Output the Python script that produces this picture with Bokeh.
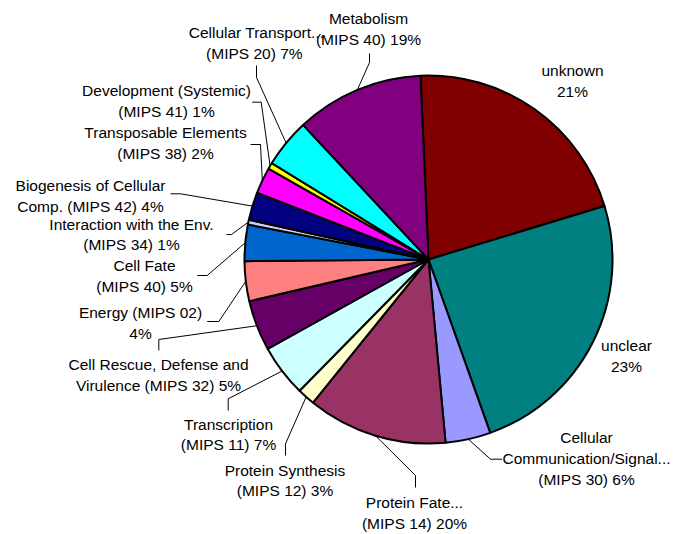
import math
from bokeh.plotting import figure
from bokeh.models import Range1d, ColumnDataSource
from bokeh.embed import file_html
from bokeh.resources import INLINE
from bokeh.core.properties import value

# ---- data (slice shares, % of the pie) ----
categories = ["unknown", "unclear", "Cellular Communication", "Protein Fate",
              "Protein Synthesis", "Transcription", "Cell Rescue", "Energy",
              "Cell Fate", "Interaction with the Env.", "Biogenesis",
              "Transposable Elements", "Development", "Cellular Transport",
              "Metabolism"]
shares = [21.0, 24.25, 3.97, 12.28, 1.56, 4.56, 4.44, 3.5, 3.19, 0.42,
          2.44, 2.31, 0.56, 4.28, 11.25]
colors = ["#800000", "#008080", "#9999FF", "#993366", "#FFFFCC", "#CCFFFF",
          "#660066", "#FF8080", "#0066CC", "#CCCCFF", "#000080", "#FF00FF",
          "#FFFF00", "#00FFFF", "#800080"]
label_lines = [
    ["unknown", "21%"],
    ["unclear", "23%"],
    ["Cellular", "Communication/Signal...", "(MIPS 30) 6%"],
    ["Protein Fate...", "(MIPS 14) 20%"],
    ["Protein Synthesis", "(MIPS 12) 3%"],
    ["Transcription", "(MIPS 11) 7%"],
    ["Cell Rescue, Defense and", "Virulence (MIPS 32) 5%"],
    ["Energy (MIPS 02)", "4%"],
    ["Cell Fate", "(MIPS 40) 5%"],
    ["Interaction with the Env.", "(MIPS 34) 1%"],
    ["Biogenesis of Cellular", "Comp. (MIPS 42) 4%"],
    ["Transposable Elements", "(MIPS 38) 2%"],
    ["Development (Systemic)", "(MIPS 41) 1%"],
    ["Cellular Transport...", "(MIPS 20)  7%"],
    ["Metabolism", "(MIPS 40) 19%"],
]

# ---- layout (pixel coordinates of the page, y downward) ----
CX, CY, R = 428, 259, 184
START_DEG = -2.5          # first slice starts just left of 12 o'clock, clockwise
LINE_H = 20.8
label_pos = [(572, 70), (626, 345), (586, 437), (414, 502), (284.5, 469.5),
             (228, 423.5), (158, 364), (140, 312), (144, 265), (131, 223.5),
             (90, 185), (165, 132), (166, 90), (256, 32), (368, 18)]
# leader: (start, elbow) or None; the line ends on the slice edge at its mid-angle
leaders = [None, None,
           ((501.7, 458.7), (490, 458.7)),
           ((415, 487), (415, 475)),
           ((285, 455), (285, 443.3)),
           ((227.7, 410), (227.7, 398.3)),
           ((158.3, 350), (158.3, 339)),
           ((206.7, 321), (218.3, 321)),
           ((196.7, 275), (206.7, 275)),
           ((226, 234), (231, 234)),
           ((170, 193.3), (180, 193.3)),
           ((250, 144), (260, 144)),
           ((251.7, 101.7), (260.7, 101.7)),
           ((256, 65), (256, 77)),
           ((369, 53), (369, 62))]

total = sum(shares)
starts, ends, mids = [], [], []
acc = START_DEG
for s in shares:
    d = s / total * 360.0
    a0, a1 = acc, acc + d
    starts.append(math.radians(90 - a0))
    ends.append(math.radians(90 - a1))
    mids.append((a0 + a1) / 2)
    acc = a1

W, H = 672, 533
p = figure(width=W, height=H, x_range=Range1d(0, W), y_range=Range1d(-H, 0),
           output_backend="svg", toolbar_location=None, min_border=0,
           x_axis_location=None, y_axis_location=None)
p.grid.visible = False
p.outline_line_color = None
p.background_fill_color = "white"
p.border_fill_color = "white"

src = ColumnDataSource(dict(cat=categories, start=starts, end=ends, color=colors))
p.wedge(x=CX, y=-CY, radius=R, start_angle="start", end_angle="end",
        direction="clock", fill_color="color", line_color="black", line_width=2,
        source=src)

xs, ys = [], []
for ld, m in zip(leaders, mids):
    if ld is None:
        continue
    ex = CX + R * math.sin(math.radians(m))
    ey = CY - R * math.cos(math.radians(m))
    (sx, sy), (bx, by) = ld
    xs.append([sx, bx, ex])
    ys.append([-sy, -by, -ey])
p.multi_line(xs=xs, ys=ys, line_color="black", line_width=1)

tx, ty, tt = [], [], []
for lines, (lx, ly) in zip(label_lines, label_pos):
    for i, t in enumerate(lines):
        tx.append(lx)
        ty.append(-(ly + i * LINE_H))
        tt.append(t)
p.text(x=tx, y=ty, text=tt, text_font=value("Liberation Sans"), text_font_size="15.5px",
       text_align="center", text_baseline="middle", text_color="black")

open("out.html", "w").write(file_html(p, INLINE))
